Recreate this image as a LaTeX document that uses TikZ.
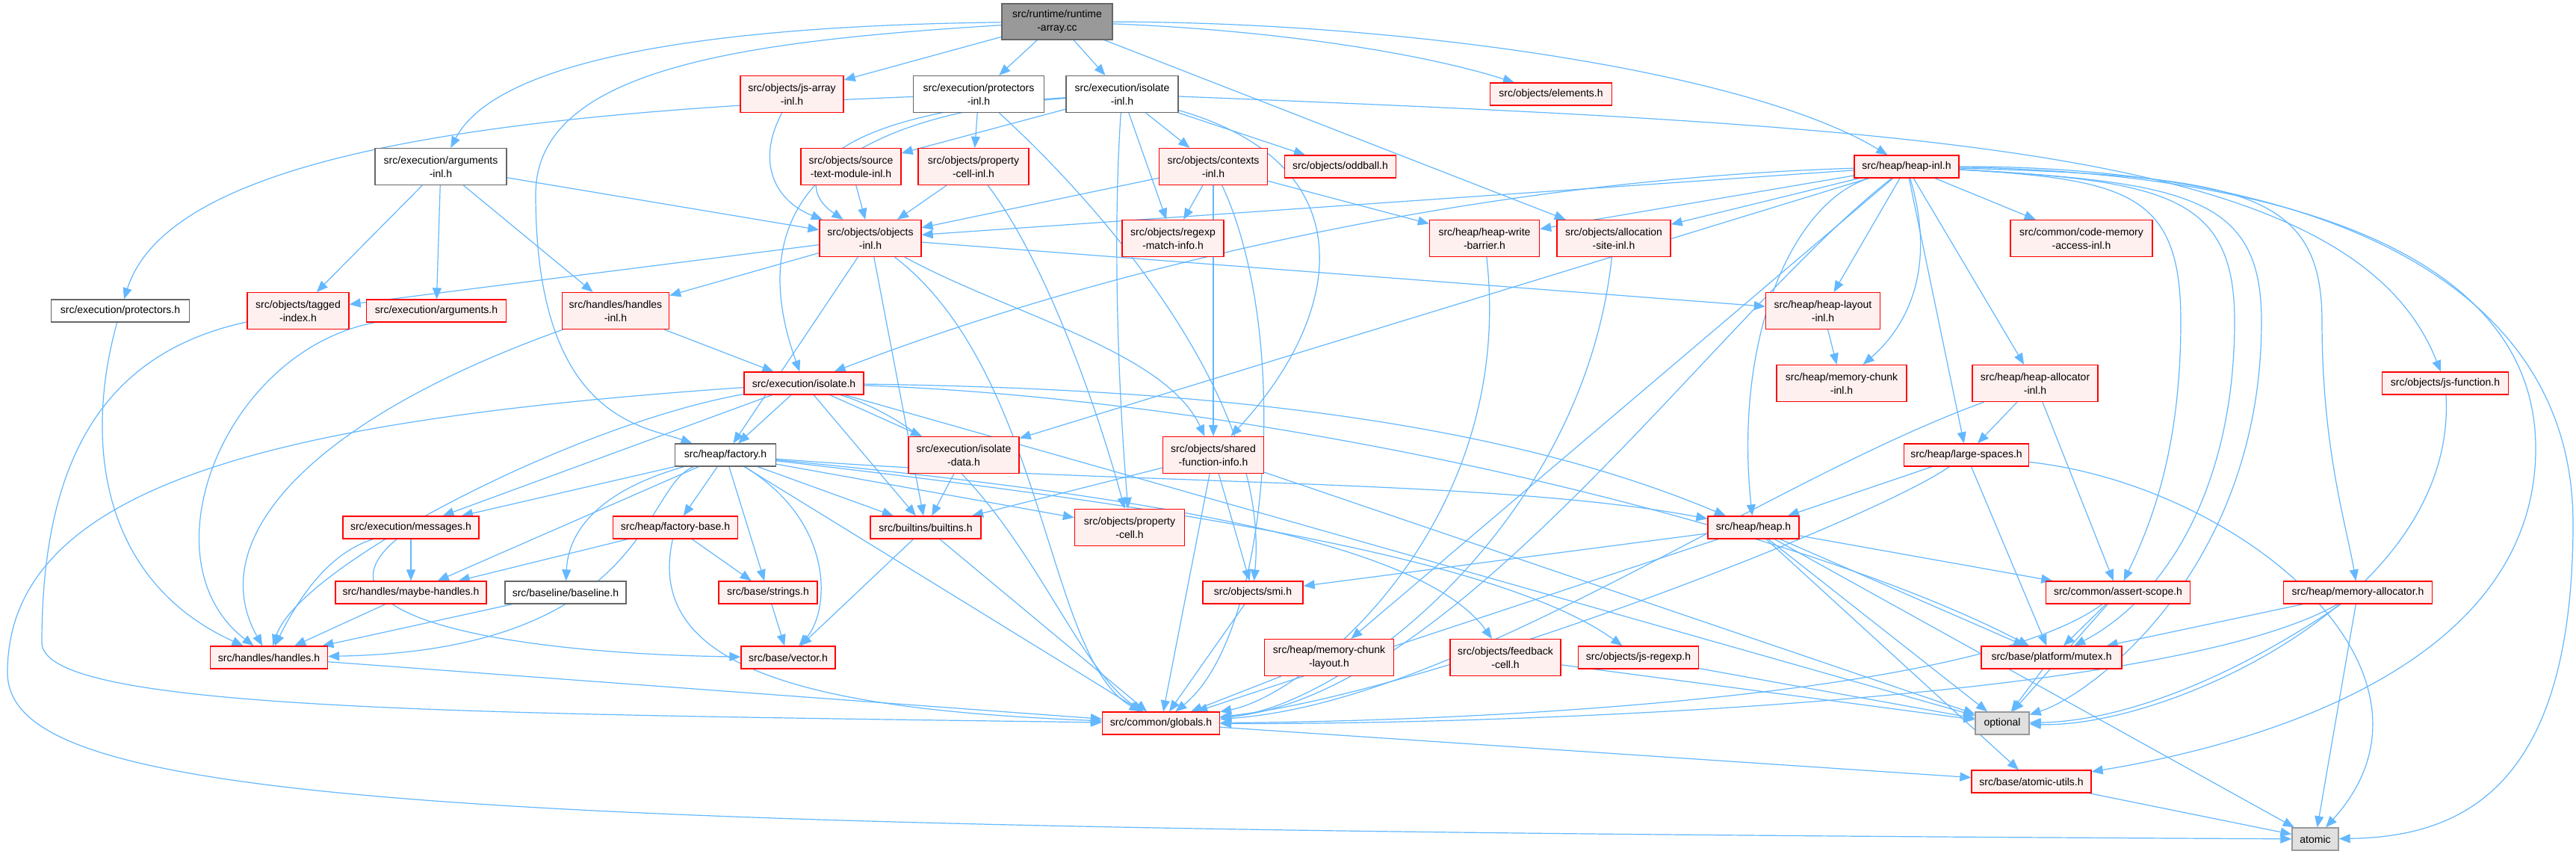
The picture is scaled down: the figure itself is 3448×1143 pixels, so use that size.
\documentclass[tikz,border=0pt]{standalone}
\usepackage{fontspec}
\setmainfont{Liberation Sans}
\usetikzlibrary{arrows.meta}
\definecolor{edgeblue}{HTML}{63B8FF}
\definecolor{pinkfill}{HTML}{FFF0F0}
\definecolor{redline}{HTML}{FF0000}
\definecolor{gsix}{HTML}{666666}
\definecolor{gnine}{HTML}{999999}
\definecolor{gext}{HTML}{E0E0E0}
\pgfdeclarelayer{bg}
\pgfsetlayers{bg,main}
\tikzset{
  box/.style={draw, line width=1.3pt, inner xsep=3pt, inner ysep=2pt, align=center,
    font=\fontsize{14}{18}\selectfont, text=black},
  wh/.style 2 args={minimum width=#1pt, minimum height=#2pt},
  redbox/.style={box, draw=redline, fill=pinkfill},
  whitebox/.style={box, draw=gsix, fill=white},
  rootbox/.style={box, draw=gsix, fill=gnine},
  extbox/.style={box, draw=gnine, fill=gext},
  lnk/.style={draw=edgeblue, line width=1.2pt, -{Triangle[length=15pt,width=12pt]}},
}
\begin{document}
\begin{tikzpicture}[x=1pt,y=-1pt]
\useasboundingbox (0,0) rectangle (3448,1143);
% ---------- nodes ----------
\node[rootbox, wh={148}{48}] (ra) at (1415,29) {src/runtime/runtime\\-array.cc};
\node[redbox, wh={138}{49}] (jsarr) at (1060,126) {src/objects/js-array\\-inl.h};
\node[whitebox, wh={175}{49}] (protinl) at (1310,126) {src/execution/protectors\\-inl.h};
\node[whitebox, wh={150}{49}] (isoinl) at (1502,126) {src/execution/isolate\\-inl.h};
\node[redbox, wh={163}{30}] (elements) at (2076,126) {src/objects/elements.h};
\node[whitebox, wh={176}{49}] (argsinl) at (590,223) {src/execution/arguments\\-inl.h};
\node[redbox, wh={134}{49}] (srctext) at (1139,223) {src/objects/source\\-text-module-inl.h};
\node[redbox, wh={148}{49}] (propcellinl) at (1303,223) {src/objects/property\\-cell-inl.h};
\node[redbox, wh={145}{49}] (contextsinl) at (1624,223) {src/objects/contexts\\-inl.h};
\node[redbox, wh={149}{30}] (oddball) at (1794,223) {src/objects/oddball.h};
\node[redbox, wh={140}{30}] (heapinl) at (2552,223) {src/heap/heap-inl.h};
\node[redbox, wh={136}{49}] (objinl) at (1165,319) {src/objects/objects\\-inl.h};
\node[redbox, wh={136}{49}] (regexpmi) at (1570,319) {src/objects/regexp\\-match-info.h};
\node[redbox, wh={147}{49}] (hwb) at (1987,319) {src/heap/heap-write\\-barrier.h};
\node[redbox, wh={152}{49}] (allocsite) at (2160,319) {src/objects/allocation\\-site-inl.h};
\node[redbox, wh={190}{49}] (codemem) at (2786,319) {src/common/code-memory\\-access-inl.h};
\node[whitebox, wh={185}{30}] (protectorsh) at (161,416) {src/execution/protectors.h};
\node[redbox, wh={136}{49}] (tagged) at (399,416) {src/objects/tagged\\-index.h};
\node[redbox, wh={187}{30}] (argsh) at (584,416) {src/execution/arguments.h};
\node[redbox, wh={143}{49}] (handlesinl) at (824,416) {src/handles/handles\\-inl.h};
\node[redbox, wh={153}{49}] (heaplayout) at (2440,416) {src/heap/heap-layout\\-inl.h};
\node[redbox, wh={160}{30}] (isolateh) at (1076,513) {src/execution/isolate.h};
\node[redbox, wh={174}{49}] (mcinl) at (2465,513) {src/heap/memory-chunk\\-inl.h};
\node[redbox, wh={168}{49}] (heapalloc) at (2724,513) {src/heap/heap-allocator\\-inl.h};
\node[redbox, wh={169}{30}] (jsfunc) at (3273,513) {src/objects/js-function.h};
\node[whitebox, wh={135}{30}] (factory) at (971,609) {src/heap/factory.h};
\node[redbox, wh={148}{49}] (isodata) at (1290,609) {src/execution/isolate\\-data.h};
\node[redbox, wh={135}{49}] (sfi) at (1624,609) {src/objects/shared\\-function-info.h};
\node[redbox, wh={167}{30}] (largesp) at (2632,609) {src/heap/large-spaces.h};
\node[redbox, wh={182}{30}] (messages) at (550,706) {src/execution/messages.h};
\node[redbox, wh={167}{30}] (factorybase) at (904,706) {src/heap/factory-base.h};
\node[redbox, wh={148}{30}] (builtins) at (1239,706) {src/builtins/builtins.h};
\node[redbox, wh={147}{49}] (propcell) at (1512,706) {src/objects/property\\-cell.h};
\node[redbox, wh={122}{30}] (heaph) at (2347,706) {src/heap/heap.h};
\node[redbox, wh={202}{30}] (maybeh) at (550,793) {src/handles/maybe-handles.h};
\node[whitebox, wh={162}{30}] (baseline) at (757,793) {src/baseline/baseline.h};
\node[redbox, wh={132}{30}] (strings) at (1028,793) {src/base/strings.h};
\node[redbox, wh={134}{30}] (smi) at (1677,793) {src/objects/smi.h};
\node[redbox, wh={193}{30}] (assert) at (2835,793) {src/common/assert-scope.h};
\node[redbox, wh={199}{30}] (memalloc) at (3156,793) {src/heap/memory-allocator.h};
\node[redbox, wh={157}{30}] (handlesh) at (360,880) {src/handles/handles.h};
\node[redbox, wh={126}{30}] (vector) at (1055,880) {src/base/vector.h};
\node[redbox, wh={173}{49}] (mclayout) at (1779,880) {src/heap/memory-chunk\\-layout.h};
\node[redbox, wh={148}{49}] (feedback) at (2015,880) {src/objects/feedback\\-cell.h};
\node[redbox, wh={161}{30}] (jsregexp) at (2193,880) {src/objects/js-regexp.h};
\node[redbox, wh={188}{30}] (mutex) at (2746,880) {src/base/platform/mutex.h};
\node[redbox, wh={157}{30}] (globals) at (1554,968) {src/common/globals.h};
\node[extbox, wh={72}{30}] (optional) at (2680,968) {optional};
\node[redbox, wh={160}{30}] (atomicutils) at (2719,1046) {src/base/atomic-utils.h};
\node[extbox, wh={62}{30}] (atomic) at (3099,1123) {atomic};
% waypoints
\coordinate (wA) at (10,900);
\coordinate (wB) at (56,860);
\coordinate (wC) at (717,260);
\coordinate (wD1) at (2919,430);
\coordinate (wD2) at (2991,430);
\coordinate (wD3) at (3027,430);
\coordinate (wD4) at (3108,430);
\coordinate (wD5) at (3394,600);
\coordinate (wD6) at (3444,700);
% ---------- edges ----------
\begin{pgfonlayer}{bg}
\fill[white] (0,0) rectangle (3448,1143);
% runtime-array.cc
\draw[lnk] (ra) -- (jsarr);
\draw[lnk] (ra) -- (protinl);
\draw[lnk] (ra) -- (isoinl);
\draw[lnk] (ra) .. controls (900,35) and (660,90) .. (argsinl);
\draw[lnk] (ra) .. controls (1000,55) and (717,90) .. (wC) .. controls (717,560) and (860,570) .. (factory);
\draw[lnk] (ra) .. controls (1700,40) and (1900,70) .. (elements);
\draw[lnk] (ra) .. controls (1900,30) and (2350,100) .. (heapinl);
\draw[lnk] (ra) -- (allocsite);
% js-array-inl
\draw[lnk] (jsarr) .. controls (1010,220) and (1040,270) .. (objinl);
% protectors-inl
\draw[lnk] (protinl) .. controls (700,150) and (230,200) .. (protectorsh);
\draw[lnk] (protinl) -- (propcellinl);
\draw[lnk] (protinl) .. controls (1500,300) and (1700,550) .. (smi);
% isolate-inl
\draw[lnk] (isoinl) .. controls (1040,160) and (1010,330) .. (isolateh);
\draw[lnk] (isoinl) .. controls (1110,150) and (1050,240) .. (objinl);
\draw[lnk] (isoinl) -- (srctext);
\draw[lnk] (isoinl) -- (contextsinl);
\draw[lnk] (isoinl) -- (oddball);
\draw[lnk] (isoinl) -- (regexpmi);
\draw[lnk] (isoinl) .. controls (1490,300) and (1495,500) .. (propcell);
\draw[lnk] (isoinl) .. controls (1830,220) and (1800,420) .. (sfi);
\draw[lnk] (isoinl) .. controls (2600,170) and (3150,200) .. (jsfunc);
% arguments-inl
\draw[lnk] (argsinl) -- (tagged);
\draw[lnk] (argsinl) -- (argsh);
\draw[lnk] (argsinl) -- (handlesinl);
\draw[lnk] (argsinl) -- (objinl);
% second level
\draw[lnk] (srctext) -- (objinl);
\draw[lnk] (propcellinl) -- (objinl);
\draw[lnk] (propcellinl) .. controls (1400,350) and (1470,550) .. (propcell);
\draw[lnk] (contextsinl) -- (objinl);
\draw[lnk] (contextsinl) -- (regexpmi);
\draw[lnk] (contextsinl) -- (hwb);
\draw[lnk] (contextsinl) -- (sfi);
\draw[lnk] (contextsinl) .. controls (1730,450) and (1700,850) .. (globals);
% heap-inl
\draw[lnk] (heapinl) -- (objinl);
\draw[lnk] (heapinl) .. controls (2000,240) and (1500,350) .. (isolateh);
\draw[lnk] (heapinl) -- (isodata);
\draw[lnk] (heapinl) -- (hwb);
\draw[lnk] (heapinl) -- (allocsite);
\draw[lnk] (heapinl) -- (codemem);
\draw[lnk] (heapinl) -- (heaplayout);
\draw[lnk] (heapinl) .. controls (2590,350) and (2560,430) .. (mcinl);
\draw[lnk] (heapinl) -- (heapalloc);
\draw[lnk] (heapinl) -- (largesp);
\draw[lnk] (heapinl) .. controls (2400,270) and (2320,450) .. (heaph);
\draw[lnk] (heapinl) .. controls (2850,240) and (2919,260) .. (wD1) .. controls (2919,600) and (2880,700) .. (assert);
\draw[lnk] (heapinl) .. controls (2900,242) and (2991,262) .. (wD2) .. controls (2991,650) and (2900,800) .. (mutex);
\draw[lnk] (heapinl) .. controls (2930,244) and (3027,264) .. (wD3) .. controls (3027,760) and (2800,930) .. (optional);
\draw[lnk] (heapinl) .. controls (3000,236) and (3108,256) .. (wD4) .. controls (3108,600) and (3140,700) .. (memalloc);
\draw[lnk] (heapinl) .. controls (2950,228) and (3394,300) .. (wD5) .. controls (3394,900) and (3000,1000) .. (atomicutils);
\draw[lnk] (heapinl) .. controls (3050,222) and (3444,350) .. (wD6) .. controls (3444,1050) and (3300,1120) .. (atomic);
\draw[lnk] (heapinl) -- (mclayout);
\draw[lnk] (heapinl) .. controls (2300,420) and (1950,930) .. (globals);
% objects-inl
\draw[lnk] (objinl) -- (tagged);
\draw[lnk] (objinl) -- (handlesinl);
\draw[lnk] (objinl) -- (factory);
\draw[lnk] (objinl) -- (builtins);
\draw[lnk] (objinl) .. controls (1400,500) and (1400,880) .. (globals);
\draw[lnk] (objinl) -- (heaplayout);
\draw[lnk] (objinl) .. controls (1350,420) and (1560,470) .. (sfi);
% fourth level
\draw[lnk] (tagged) .. controls (150,470) and (56,600) .. (wB) .. controls (56,950) and (600,955) .. (globals);
\draw[lnk] (argsh) .. controls (300,470) and (190,750) .. (handlesh);
\draw[lnk] (handlesinl) -- (isolateh);
\draw[lnk] (handlesinl) .. controls (420,560) and (270,720) .. (handlesh);
\draw[lnk] (protectorsh) .. controls (110,600) and (140,780) .. (handlesh);
\draw[lnk] (heaplayout) -- (mcinl);
% isolate.h
\draw[lnk] (isolateh) -- (factory);
\draw[lnk] (isolateh) -- (isodata);
\draw[lnk] (isolateh) -- (builtins);
\draw[lnk] (isolateh) -- (messages);
\draw[lnk] (isolateh) .. controls (760,570) and (400,760) .. (handlesh);
\draw[lnk] (isolateh) .. controls (400,560) and (10,640) .. (wA) .. controls (10,1080) and (600,1110) .. (atomic);
\draw[lnk] (isolateh) .. controls (1600,520) and (2000,560) .. (heaph);
\draw[lnk] (isolateh) -- (optional);
\draw[lnk] (isolateh) .. controls (1700,535) and (2400,700) .. (mutex);
\draw[lnk] (isolateh) .. controls (1350,600) and (1420,880) .. (globals);
% factory.h
\draw[lnk] (factory) -- (factorybase);
\draw[lnk] (factory) -- (strings);
\draw[lnk] (factory) .. controls (1120,700) and (1110,820) .. (vector);
\draw[lnk] (factory) -- (globals);
\draw[lnk] (factory) -- (builtins);
\draw[lnk] (factory) -- (propcell);
\draw[lnk] (factory) -- (messages);
\draw[lnk] (factory) -- (maybeh);
\draw[lnk] (factory) .. controls (790,660) and (760,720) .. (baseline);
\draw[lnk] (factory) .. controls (860,650) and (870,870) .. (handlesh);
\draw[lnk] (factory) .. controls (1500,650) and (2000,640) .. (heaph);
\draw[lnk] (factory) .. controls (1500,660) and (1900,720) .. (feedback);
\draw[lnk] (factory) .. controls (1500,670) and (2000,740) .. (jsregexp);
% remaining
\draw[lnk] (isodata) -- (builtins);
\draw[lnk] (sfi) -- (builtins);
\draw[lnk] (sfi) -- (smi);
\draw[lnk] (sfi) -- (globals);
\draw[lnk] (sfi) -- (optional);
\draw[lnk] (largesp) -- (heaph);
\draw[lnk] (largesp) -- (mutex);
\draw[lnk] (largesp) .. controls (2500,700) and (1900,930) .. (globals);
\draw[lnk] (largesp) .. controls (3000,650) and (3300,900) .. (atomic);
\draw[lnk] (heapalloc) -- (largesp);
\draw[lnk] (heapalloc) -- (assert);
\draw[lnk] (heapalloc) .. controls (2350,650) and (1950,940) .. (globals);
\draw[lnk] (messages) -- (maybeh);
\draw[lnk] (messages) .. controls (440,740) and (400,800) .. (handlesh);
\draw[lnk] (messages) .. controls (400,830) and (700,875) .. (vector);
\draw[lnk] (factorybase) -- (maybeh);
\draw[lnk] (factorybase) -- (strings);
\draw[lnk] (factorybase) .. controls (860,900) and (1100,950) .. (globals);
\draw[lnk] (builtins) -- (vector);
\draw[lnk] (builtins) -- (globals);
\draw[lnk] (heaph) -- (smi);
\draw[lnk] (heaph) -- (globals);
\draw[lnk] (heaph) -- (optional);
\draw[lnk] (heaph) -- (mutex);
\draw[lnk] (heaph) -- (assert);
\draw[lnk] (heaph) -- (atomicutils);
\draw[lnk] (heaph) -- (atomic);
\draw[lnk] (maybeh) -- (handlesh);
\draw[lnk] (baseline) -- (handlesh);
\draw[lnk] (strings) -- (vector);
\draw[lnk] (smi) -- (globals);
\draw[lnk] (assert) -- (mutex);
\draw[lnk] (assert) -- (optional);
\draw[lnk] (assert) .. controls (2650,930) and (2000,965) .. (globals);
\draw[lnk] (memalloc) -- (mutex);
\draw[lnk] (memalloc) .. controls (3000,900) and (2850,965) .. (optional);
\draw[lnk] (memalloc) -- (atomic);
\draw[lnk] (memalloc) .. controls (2900,940) and (2000,970) .. (globals);
\draw[lnk] (handlesh) -- (globals);
\draw[lnk] (mclayout) -- (globals);
\draw[lnk] (feedback) -- (optional);
\draw[lnk] (jsregexp) -- (optional);
\draw[lnk] (mutex) -- (optional);
\draw[lnk] (globals) -- (atomicutils);
\draw[lnk] (atomicutils) -- (atomic);
\draw[lnk] (hwb) .. controls (2030,700) and (1750,930) .. (globals);
\draw[lnk] (allocsite) .. controls (2120,700) and (1800,945) .. (globals);
\draw[lnk] (jsfunc) .. controls (3290,800) and (2900,975) .. (optional);
\end{pgfonlayer}
\end{tikzpicture}
\end{document}
